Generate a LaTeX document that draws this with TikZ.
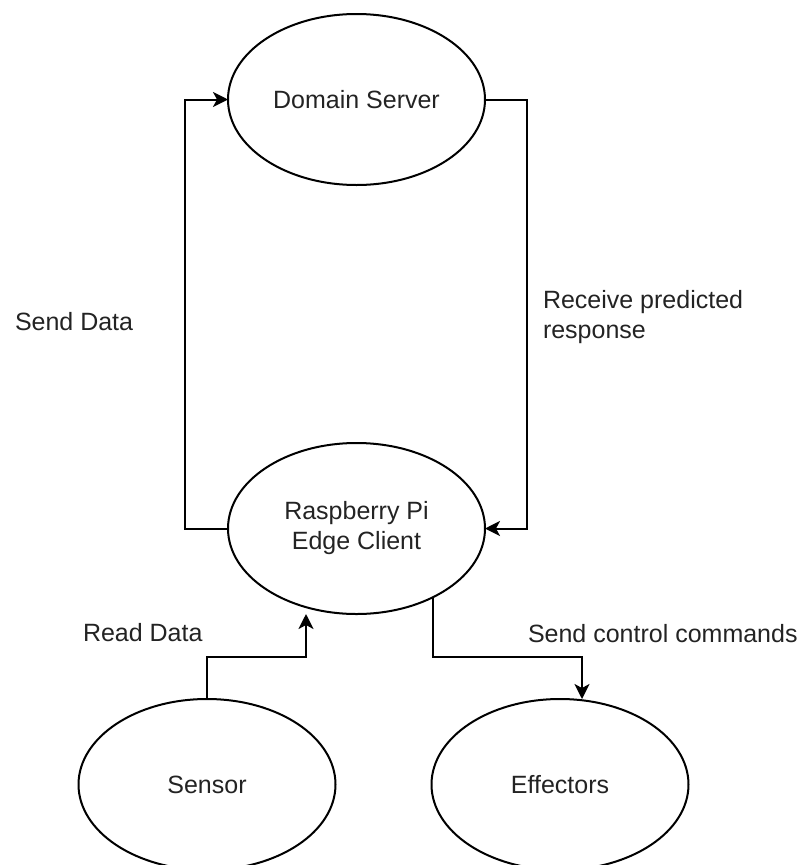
\documentclass[tikz,border=0pt]{standalone}
\usepackage{fontspec}
\setmainfont{Liberation Sans}
\usetikzlibrary{arrows.meta,shapes.geometric}
\definecolor{txt}{RGB}{35,35,35}
\begin{document}
\begin{tikzpicture}[x=1pt,y=-1pt,
  proc/.style={ellipse,draw=black,line width=2pt,minimum width=257pt,minimum height=171pt,
    inner sep=0pt,outer sep=0pt,align=center,font=\fontsize{25}{30}\selectfont,text=txt},
  lbl/.style={inner sep=0pt,outer sep=0pt,anchor=west,align=left,
    font=\fontsize{25}{30}\selectfont,text=txt},
  conn/.style={line width=2pt,-{Stealth[length=15pt,width=15pt,inset=4pt]}},
]
\useasboundingbox (0,0) rectangle (808,865);
\clip (0,0) rectangle (808,865);

\node[proc] (ds) at (356.5,99.5) {Domain Server};
\node[proc] (rpi) at (356.5,528.5) {Raspberry Pi\\Edge Client};
\node[proc] (sensor) at (207,784.5) {Sensor};
\node[proc] (eff) at (560,784.5) {Effectors};

\coordinate (sdcorner) at (185,0);
\coordinate (rcorner) at (527,0);

% Send Data
\draw[conn] (rpi.west) -- (sdcorner |- rpi.west) -- (sdcorner |- ds.west) -- (ds.west);
% Receive predicted response
\draw[conn] (ds.east) -- (rcorner |- ds.east) -- (rcorner |- rpi.east) -- (rpi.east);
% Read Data
\draw[conn] (sensor.north) |- ([xshift=-50.5pt,yshift=-43pt]rpi.south) -- ([xshift=-50.5pt]rpi.south);
% Send control commands
\draw[conn] (rpi.-42) |- ([xshift=22pt,yshift=42pt]eff.north) -- ([xshift=22pt]eff.north);

\node[lbl] (lsend) at (15,322) {Send Data};
\node[lbl] (lrecv) at (543,317.5) {Receive predicted\\response};
\node[lbl] (lread) at (83,633) {Read Data};
\node[lbl] (lctrl) at (528,634) {Send control commands};
\end{tikzpicture}
\end{document}
